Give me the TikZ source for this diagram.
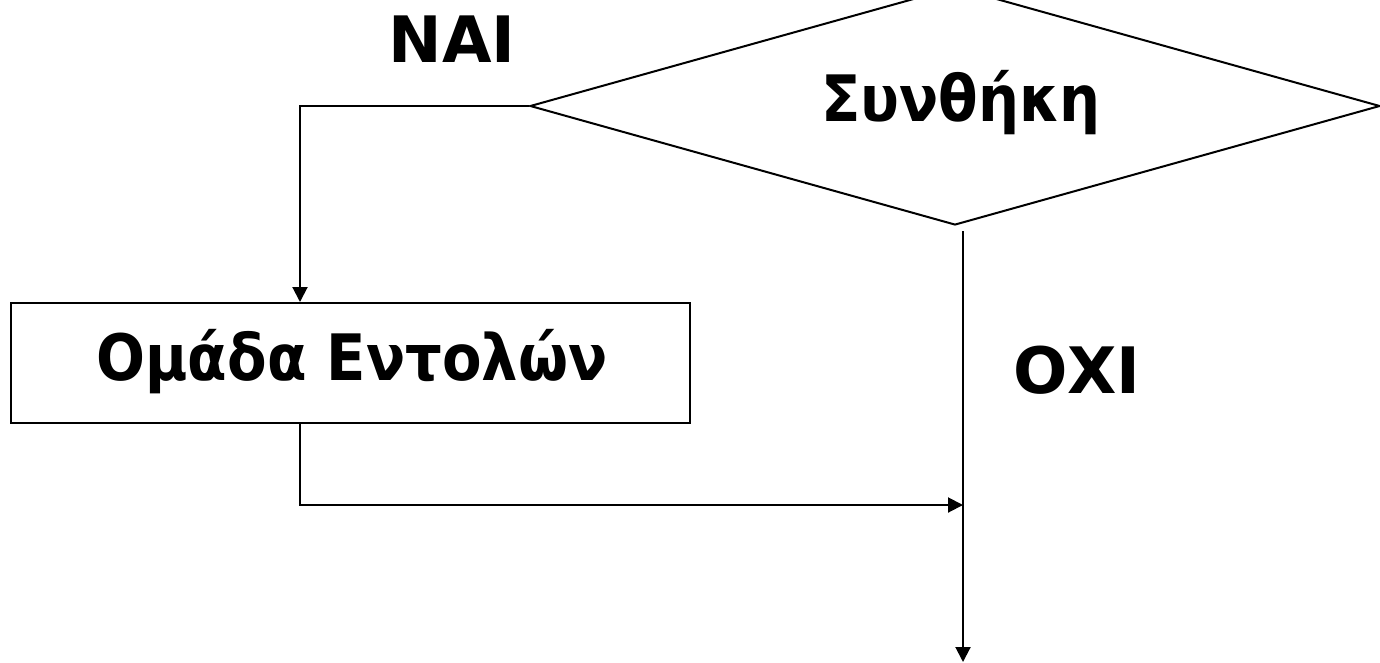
\documentclass[tikz,border=0pt]{standalone}
\usepackage{fontspec}
\setmainfont{DejaVu Sans}
\newfontfamily\narrowgr{DejaVu Sans}[FakeStretch=0.9]
\usetikzlibrary{shapes.geometric,arrows.meta}
\begin{document}
\begin{tikzpicture}[x=1pt,y=-1pt,
  line/.style={line width=2pt},
  arr/.style={line, -{Triangle[length=15pt,width=15pt]}},
  lbl/.style={font=\fontsize{64}{70}\selectfont\bfseries, inner sep=0pt, anchor=base},
  narrowlbl/.style={font=\fontsize{64}{70}\narrowgr\bfseries, inner sep=0pt, anchor=base},
  decision/.style={diamond, draw, line width=2pt, minimum width=850pt, minimum height=238pt, inner sep=0pt},
  process/.style={rectangle, draw, line width=2pt, minimum width=679pt, minimum height=120pt, inner sep=0pt}]
\clip (0,0) rectangle (1380,662);
\node[decision] (dia) at (955,106) {};
\node[process] (box) at (350.5,363) {};
\node[narrowlbl] (cond) at (961,121) {Συνθήκη};
\node[narrowlbl] (cmds) at (352,380) {Ομάδα Εντολών};
\node[lbl] (nai) at (452,62) {ΝΑΙ};
\node[lbl] (oxi) at (1077,393) {ΟΧΙ};
\coordinate (c1) at (300,106);
\coordinate (j) at (963,505);
\coordinate (end) at (963,662);
\draw[arr] (dia.west) -- (c1) -- (c1 |- box.north);
\draw[arr] (c1 |- box.south) |- (j);
\draw[arr, shorten <=5pt] (dia.south -| end) -- (end);
\end{tikzpicture}
\end{document}
